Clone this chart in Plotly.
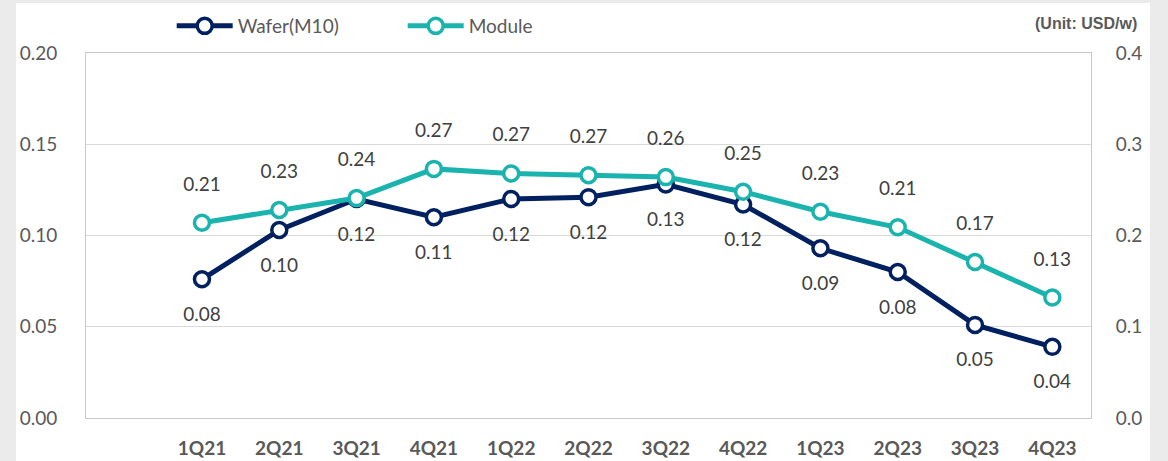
import plotly.graph_objects as go

quarters = ["1Q21", "2Q21", "3Q21", "4Q21", "1Q22", "2Q22",
            "3Q22", "4Q22", "1Q23", "2Q23", "3Q23", "4Q23"]
wafer_m10 = [0.076, 0.103, 0.120, 0.110, 0.120, 0.121,
             0.128, 0.117, 0.093, 0.080, 0.051, 0.039]
module = [0.214, 0.228, 0.241, 0.273, 0.268, 0.266,
          0.264, 0.248, 0.226, 0.209, 0.171, 0.132]

_WAFER_COLOUR = "#002060"
_MODULE_COLOUR = "#1AB3AE"
_TEXT_COLOUR = "#404040"
_GRID_COLOUR = "#d9d9d9"
_FONT = "Lato, 'Open Sans', sans-serif"


def add_series(fig, values, name, colour, axis, text_pos):
    fig.add_trace(go.Scatter(
        x=quarters,
        y=values,
        name=name,
        yaxis=axis,
        mode="lines+markers",
        line=dict(color=colour, width=5),
        marker=dict(symbol="circle", size=15, color="white",
                    line=dict(color=colour, width=3.5)),
    ))
    # data labels, pushed away from the point with a larger invisible marker
    fig.add_trace(go.Scatter(
        x=quarters,
        y=values,
        yaxis=axis,
        mode="markers+text",
        marker=dict(size=42, opacity=0),
        text=[f"{v:.2f}" for v in values],
        textposition=text_pos,
        textfont=dict(size=19, color=_TEXT_COLOUR, family=_FONT),
        cliponaxis=False,
        showlegend=False,
        hoverinfo="skip",
    ))


fig = go.Figure()
add_series(fig, wafer_m10, "Wafer(M10)", _WAFER_COLOUR, "y", "bottom center")
add_series(fig, module, "Module", _MODULE_COLOUR, "y2", "top center")

# white card behind the chart
fig.add_shape(type="rect", xref="paper", yref="paper",
              x0=-0.0697, x1=1.0587, y0=-0.2, y1=1.137,
              fillcolor="white", line_width=0, layer="below")

fig.add_annotation(
    text="<b>(Unit: USD/w)</b>",
    xref="paper", yref="paper", x=1.048, y=1.082,
    xanchor="right", yanchor="middle", showarrow=False,
    font=dict(family="Liberation Sans, Arial", size=16, color="#595959"),
)

fig.update_layout(
    width=1168,
    height=461,
    paper_bgcolor="#ebebeb",
    plot_bgcolor="white",
    margin=dict(l=86, r=77, t=53, b=43),
    font=dict(family=_FONT, color=_TEXT_COLOUR),
    showlegend=True,
    legend=dict(
        orientation="h", xref="container", yref="container",
        x=0.147, y=0.9436, xanchor="left", yanchor="middle",
        font=dict(size=19, color="#595959"), entrywidth=160, itemwidth=56,
        bgcolor="rgba(0,0,0,0)",
    ),
    xaxis=dict(
        type="category",
        range=[-1.5, 11.5],
        showgrid=False,
        showline=True, linecolor="#c8c8c8", linewidth=1, mirror=True,
        ticks="", automargin=False,
        tickfont=dict(size=19, color="#595959", family=_FONT, weight="bold"),
        ticklabelstandoff=13,
    ),
    yaxis=dict(
        range=[0, 0.2], dtick=0.05, tickformat=".2f",
        showgrid=True, gridcolor=_GRID_COLOUR, gridwidth=1,
        showline=True, linecolor="#c8c8c8", linewidth=1,
        zeroline=False, ticks="", automargin=False,
        tickfont=dict(size=19, color="#595959"),
        ticklabelstandoff=24,
    ),
    yaxis2=dict(
        overlaying="y", side="right",
        range=[0, 0.4], dtick=0.1, tickformat=".1f",
        showgrid=False, showline=True, linecolor="#c8c8c8", linewidth=1,
        zeroline=False, ticks="", automargin=False,
        tickfont=dict(size=19, color="#595959"),
        ticklabelstandoff=20,
    ),
)

fig.write_html("out.html", config={"displayModeBar": False},
               post_script="document.body.style.margin='0';")
